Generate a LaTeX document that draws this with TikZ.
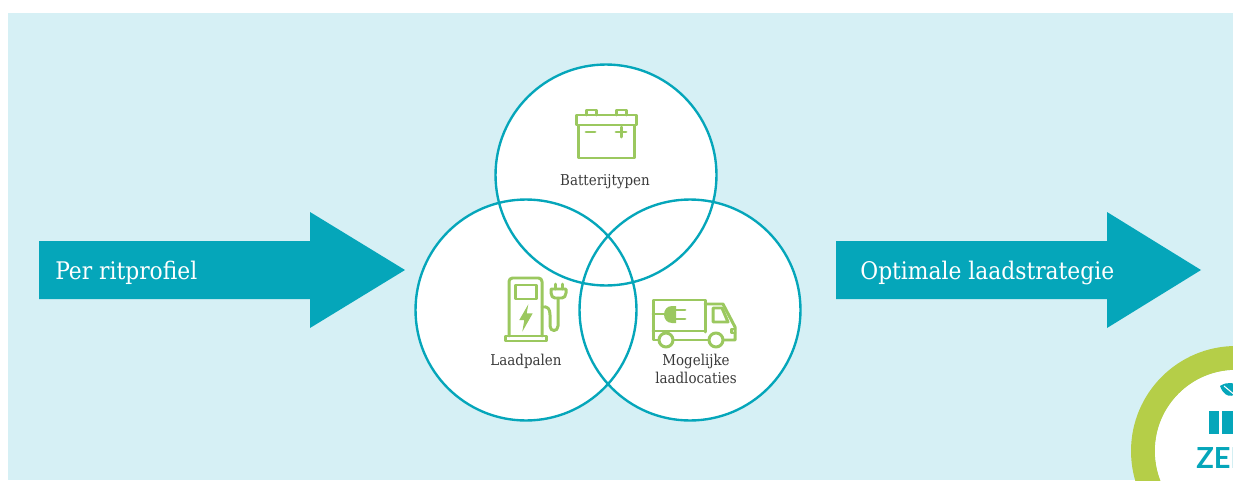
\documentclass[tikz,border=0pt]{standalone}
\usepackage{fontspec}
\setmainfont{DejaVu Serif Condensed}
\newfontfamily\logofont{Lato}
\definecolor{panel}{HTML}{D6F0F5}
\definecolor{teal}{HTML}{05A6BA}
\definecolor{icongreen}{HTML}{9BC85F}
\definecolor{ringgreen}{HTML}{B5CE48}
\definecolor{ink}{HTML}{3A3A3A}
\begin{document}
\begin{tikzpicture}[x=0.02cm,y=-0.02cm]
    \tikzset{venn/.style = {shape=circle,fill=white,minimum size=4.42cm,inner sep=0pt}}
    \tikzset{vennline/.style = {shape=circle,draw=teal,line width=1.35pt,minimum size=4.42cm,inner sep=0pt}}
    \tikzset{vennlabel/.style = {text=ink,font=\fontsize{8.5}{10.2}\selectfont,align=center,inner sep=0pt}}
    \tikzset{arrowlabel/.style = {text=white,font=\fontsize{13.8}{16}\selectfont,anchor=west,inner sep=0pt}}
    \tikzset{iconline/.style = {draw=icongreen,line width=1.7pt,line join=round,line cap=round}}
    \tikzset{iconfill/.style = {fill=icongreen}}
    \useasboundingbox (0,0) rectangle (1233,480);
    \clip (0,0) rectangle (1233,480);
    \fill[panel] (8,13) rectangle (1233,480);
    % arrows
    \fill[teal] (39,241) -- (310,241) -- (310,212) -- (405,270) -- (310,328) -- (310,299) -- (39,299) -- cycle;
    \fill[teal] (836,241) -- (1107,241) -- (1107,212) -- (1201,270) -- (1107,328) -- (1107,299) -- (836,299) -- cycle;
    \node[arrowlabel] (per) at (55,273) {Per ritprofiel};
    \node[arrowlabel] (opt) at (860,273) {Optimale laadstrategie};
    % circles
    \node[venn] (bat) at (606,175) {};
    \node[venn] (paal) at (526,310) {};
    \node[venn] (loc) at (690,310) {};
    \node[vennline] at (bat) {};
    \node[vennline] at (paal) {};
    \node[vennline] at (loc) {};
    \node[vennlabel] (batl) at (605,182) {Batterijtypen};
    \node[vennlabel] (paall) at (526,361) {Laadpalen};
    \node[vennlabel] (locl) at (696,369) {Mogelijke\\laadlocaties};
    % battery
    \draw[iconline] (586,115) -- (586,110) -- (596,110) -- (596,115);
    \draw[iconline] (616,115) -- (616,110) -- (626,110) -- (626,115);
    \draw[iconline] (576,115) rectangle (636,125);
    \draw[iconline] (578,125) rectangle (634,158);
    \draw[iconline] (586,132) -- (595,132);
    \draw[iconline] (616,132) -- (626,132) (621,127) -- (621,137);
    % charger
    \draw[iconline,rounded corners=2pt] (509,336) -- (509,278) -- (542,278) -- (542,336);
    \draw[iconline] (505,336) rectangle (546,341);
    \draw[iconline] (515,285) rectangle (536,299);
    \fill[iconfill] (528.3,304.3) -- (519.3,320) -- (524.3,320) -- (522.3,331.7) -- (532.7,313.3) -- (526.7,313.3) -- cycle;
    \draw[iconline] (542,307) .. controls (548,306) and (550,309) .. (550,315) -- (550,326) .. controls (550,332) and (558,332) .. (558,326) -- (558,298);
    \draw[iconline] (551,289) -- (566,289) -- (566,293) .. controls (566,296) and (564,298) .. (562,298) -- (555,298) .. controls (553,298) and (551,296) .. (551,293) -- cycle;
    \draw[iconline] (555,284) -- (555,289) (562,284) -- (562,289);
    % truck
    \draw[iconline] (658.5,340) -- (653,340) -- (653,300) -- (705,300) -- (705,332) (673,340) -- (709,340);
    \draw[iconline] (653,331) -- (705,331);
    \draw[iconline] (705,304) -- (723,304) -- (735,327) -- (735,340) -- (723,340);
    \draw[iconline] (713,308) -- (722,308) -- (728,322) -- (713,322) -- cycle;
    \draw[iconline] (666,340) circle (7);
    \draw[iconline] (716,340) circle (7);
    \draw[iconline] (653,314) -- (668,314);
    \fill[iconfill] (676,306) -- (676,323) -- (672,323) .. controls (667,323) and (664,319) .. (664,314.5) .. controls (664,310) and (667,306) .. (672,306) -- cycle;
    \draw[iconline] (676,310) -- (685,310) (676,319) -- (685,319);
    \draw[iconline] (735,329) -- (731,329) -- (731,333) -- (735,333);
    % logo
    \draw[draw=ringgreen,line width=24*0.02cm] (1236,451) circle (93);
    \fill[white] (1236,451) circle (81);
    \fill[teal] (1220,386) .. controls (1228,381) and (1234,383) .. (1240,386) .. controls (1238,396) and (1226,402) .. (1220,386) -- cycle;
    \draw[white,line width=0.6pt] (1224,386) -- (1236,396);
    \fill[teal] (1209,411) rectangle (1219,434);
    \fill[teal] (1222,411) rectangle (1233,434);
    \node[text=teal,font=\logofont\bfseries\fontsize{16.5}{17}\selectfont,anchor=base west,inner sep=0pt] (zer) at (1196,468) {ZER};
\end{tikzpicture}
\end{document}
